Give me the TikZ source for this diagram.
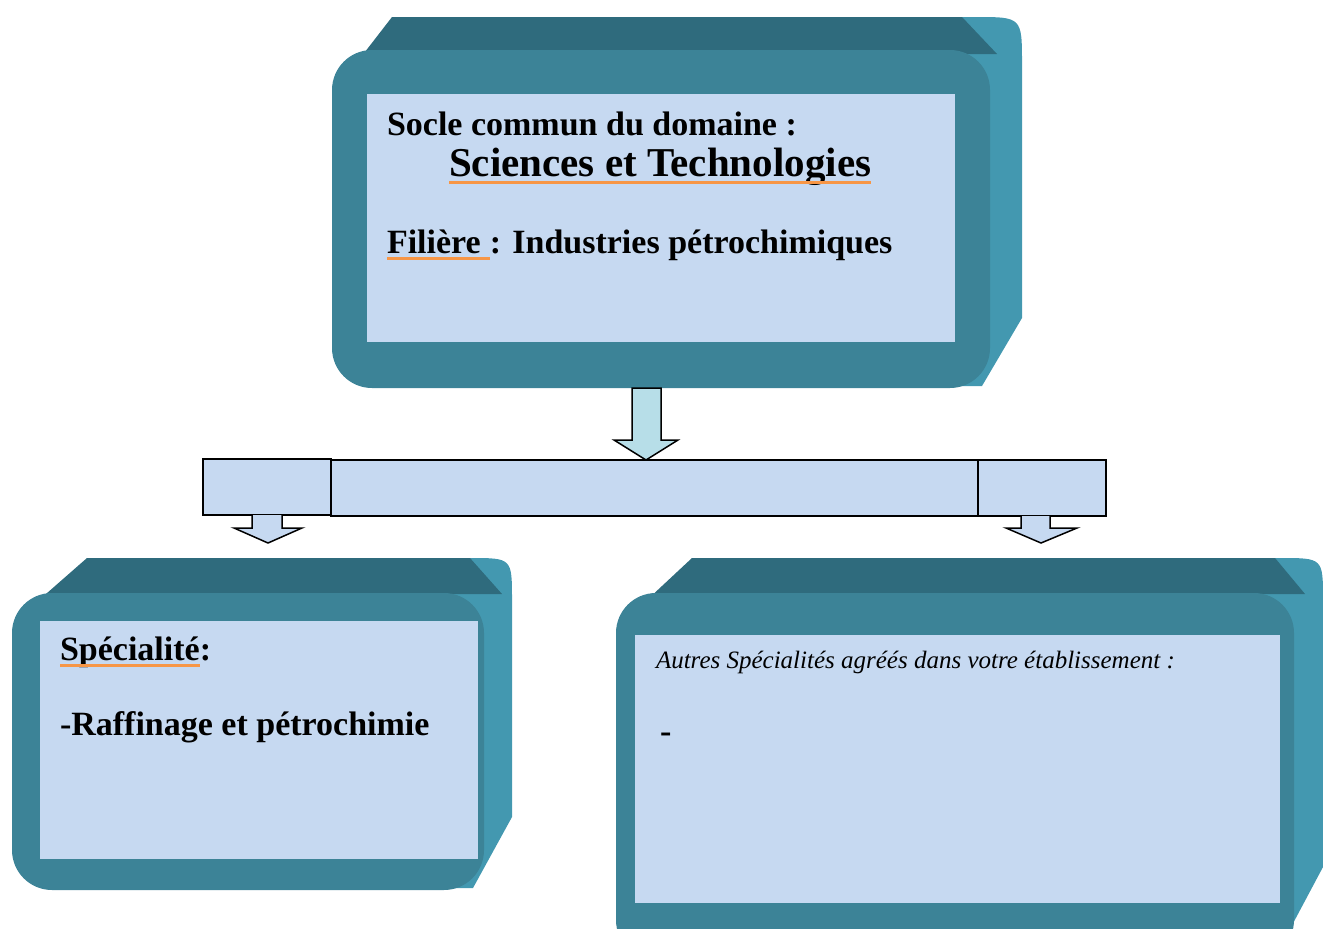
\documentclass[tikz,border=0pt]{standalone}
\usepackage{fontspec}
\setmainfont{Liberation Serif}
\usetikzlibrary{calc}
\definecolor{front}{HTML}{3C8397}
\definecolor{topband}{HTML}{2F6B7D}
\definecolor{side}{HTML}{4398B0}
\definecolor{inner}{HTML}{C6D9F1}
\definecolor{arrowfill}{HTML}{B7DEE8}
\definecolor{uline}{HTML}{F79646}
\tikzset{
  txt/.style={anchor=base west, inner sep=0pt, outer sep=0pt, text=black},
  bigtxt/.style={txt, font=\fontsize{34}{40}\selectfont\bfseries},
  titletxt/.style={txt, font=\fontsize{41}{48}\selectfont\bfseries},
  smalltxt/.style={txt, font=\fontsize{25}{30}\selectfont\itshape},
  ul/.style={uline, line width=3pt},
  flow/.style={draw=black, line width=1.5pt, line join=miter},
  innerbox/.style={fill=inner, inner sep=0pt, anchor=north west},
}
\begin{document}
\begin{tikzpicture}[x=1pt,y=-1pt]
\useasboundingbox (0,0) rectangle (1323,929);
\clip (0,0) rectangle (1323,929);

% ---------- top block ----------
\fill[side] (900,17) -- (975,17) .. controls (1022,17) .. (1022,64) -- (1022,318) -- (982,386) -- (900,386) -- cycle;
\fill[topband] (334,92) -- (392,17) -- (962,17) -- (997,54) -- (390,54) -- (390,92) -- cycle;
\fill[front, rounded corners=40pt] (332,50) rectangle (990,388);
\node[innerbox, minimum width=588pt, minimum height=248pt] (topbox) at (367,94) {};

\node[bigtxt] (socle) at (387,135) {Socle commun du domaine :};
\node[titletxt] (sci) at (449,176) {Sciences et Technologies};
\draw[ul] ($(sci.base west)+(0,6)$) -- ($(sci.base east)+(0,6)$);
\node[bigtxt] (fil) at (387,253) {Filière\hspace*{9pt}\mbox{}};
\node[bigtxt] (ind) at (fil.base east) {: Industries pétrochimiques};
\draw[ul] ($(fil.base west)+(0,5)$) -- ($(fil.base east)+(0,5)$);

% ---------- arrows ----------
\filldraw[flow, fill=arrowfill] (632,388) -- (661,388) -- (661,440) -- (678,440) -- (646,460) -- (614,440) -- (632,440) -- cycle;
\filldraw[flow, fill=inner] (203,459) rectangle (331,515);
\filldraw[flow, fill=inner] (978,460) rectangle (1106,516);
\filldraw[flow, fill=inner] (331,460) rectangle (978,516);
\filldraw[flow, fill=inner] (252,515) -- (252,528) -- (234,528) -- (268,543) -- (302,528) -- (282,528) -- (282,515);
\filldraw[flow, fill=inner] (1021,516) -- (1021,528) -- (1006,528) -- (1041,543) -- (1077,528) -- (1050,528) -- (1050,516);

% ---------- bottom-left block ----------
\fill[side] (440,558) -- (470,558) .. controls (512,558) .. (512,600) -- (512,817) -- (473,888) -- (440,888) -- cycle;
\fill[topband] (14,622) -- (87,558) -- (470,558) -- (502,594) -- (60,594) -- (60,622) -- cycle;
\fill[front, rounded corners=40pt] (12,593) rectangle (484,890);
\node[innerbox, minimum width=438pt, minimum height=238pt] (leftbox) at (40,621) {};
\node[bigtxt] (spec) at (60,660) {Spécialité};
\node[bigtxt] at (spec.base east) {:};
\draw[ul] ($(spec.base west)+(0,5)$) -- ($(spec.base east)+(0,5)$);
\node[bigtxt] (raf) at (60,735) {-Raffinage et pétrochimie};

% ---------- bottom-right block ----------
\fill[side] (1200,558) -- (1280,558) .. controls (1323,558) .. (1323,600) -- (1323,867) -- (1290,929) -- (1200,929) -- cycle;
\fill[topband] (617,628) -- (692,558) -- (1275,558) -- (1305,594) -- (660,594) -- (660,628) -- cycle;
\fill[front, rounded corners=40pt] (616,593) rectangle (1294,960);
\node[innerbox, minimum width=645pt, minimum height=268pt] (rightbox) at (635,635) {};
\node[smalltxt] (autres) at (656,668) {Autres Spécialités agréés dans votre établissement :};
\node[bigtxt] (dash) at (660,742) {-};
\end{tikzpicture}
\end{document}
